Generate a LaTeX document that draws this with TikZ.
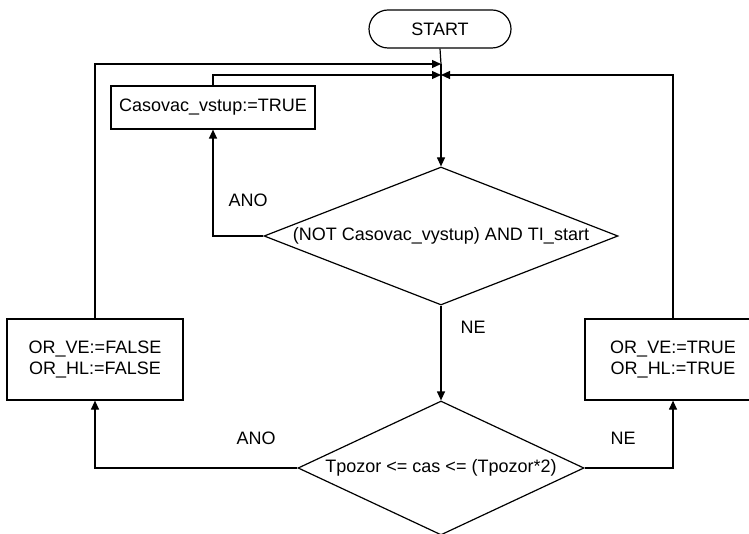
\documentclass[tikz,border=0pt]{standalone}
\usepackage{fontspec}
\setmainfont{Liberation Sans}
\usetikzlibrary{shapes.geometric,arrows.meta}
\begin{document}
\begin{tikzpicture}[x=1pt,y=-1pt, line width=1.2pt,
  every node/.style={font=\fontsize{18}{21}\selectfont},
  box/.style={draw, rectangle, inner sep=0pt, align=center},
  dec/.style={draw, diamond, inner sep=0pt},
  arr/.style={-{Triangle[length=9pt,width=8pt]}},
  lbl/.style={inner sep=0pt}]
\clip (0,0) rectangle (749,534);
\node[box, rounded corners=19pt, minimum width=142pt, minimum height=38pt] (start) at (440,29) {START};
\node[box, minimum width=204pt, minimum height=43pt] (cas) at (213,107.5) {Casovac\_vstup:=TRUE};
\node[dec, aspect=2.565, minimum width=354pt, minimum height=138pt] (d1) at (441,236) {(NOT Casovac\_vystup) AND TI\_start};
\node[box, minimum width=176pt, minimum height=81pt] (lbox) at (95,359.5) {OR\_VE:=FALSE\\OR\_HL:=FALSE};
\node[box, minimum width=176pt, minimum height=81pt] (rbox) at (673,359.5) {OR\_VE:=TRUE\\OR\_HL:=TRUE};
\node[dec, aspect=2.13, minimum width=286pt, minimum height=134pt] (d2) at (441,468) {Tpozor <= cas <= (Tpozor*2)};
\node[lbl] (ano1) at (248,200) {ANO};
\node[lbl] (ne1) at (473,327) {NE};
\node[lbl] (ano2) at (256,438) {ANO};
\node[lbl] (ne2) at (623,438) {NE};
\coordinate (j1) at (441,64);
\coordinate (j2) at (441,75);
\draw (start.south) -- (j1);
\draw[arr] (j1) -- (d1.north);
\draw[arr] (lbox.north) |- (j1);
\draw[arr] (cas.north) |- (j2);
\draw[arr] (rbox.north) |- (j2);
\draw[arr] (d1.west) -| (cas.south);
\draw[arr] (d1.south) -- (d2.north);
\draw[arr] (d2.west) -| (lbox.south);
\draw[arr] (d2.east) -| (rbox.south);
\end{tikzpicture}
\end{document}
